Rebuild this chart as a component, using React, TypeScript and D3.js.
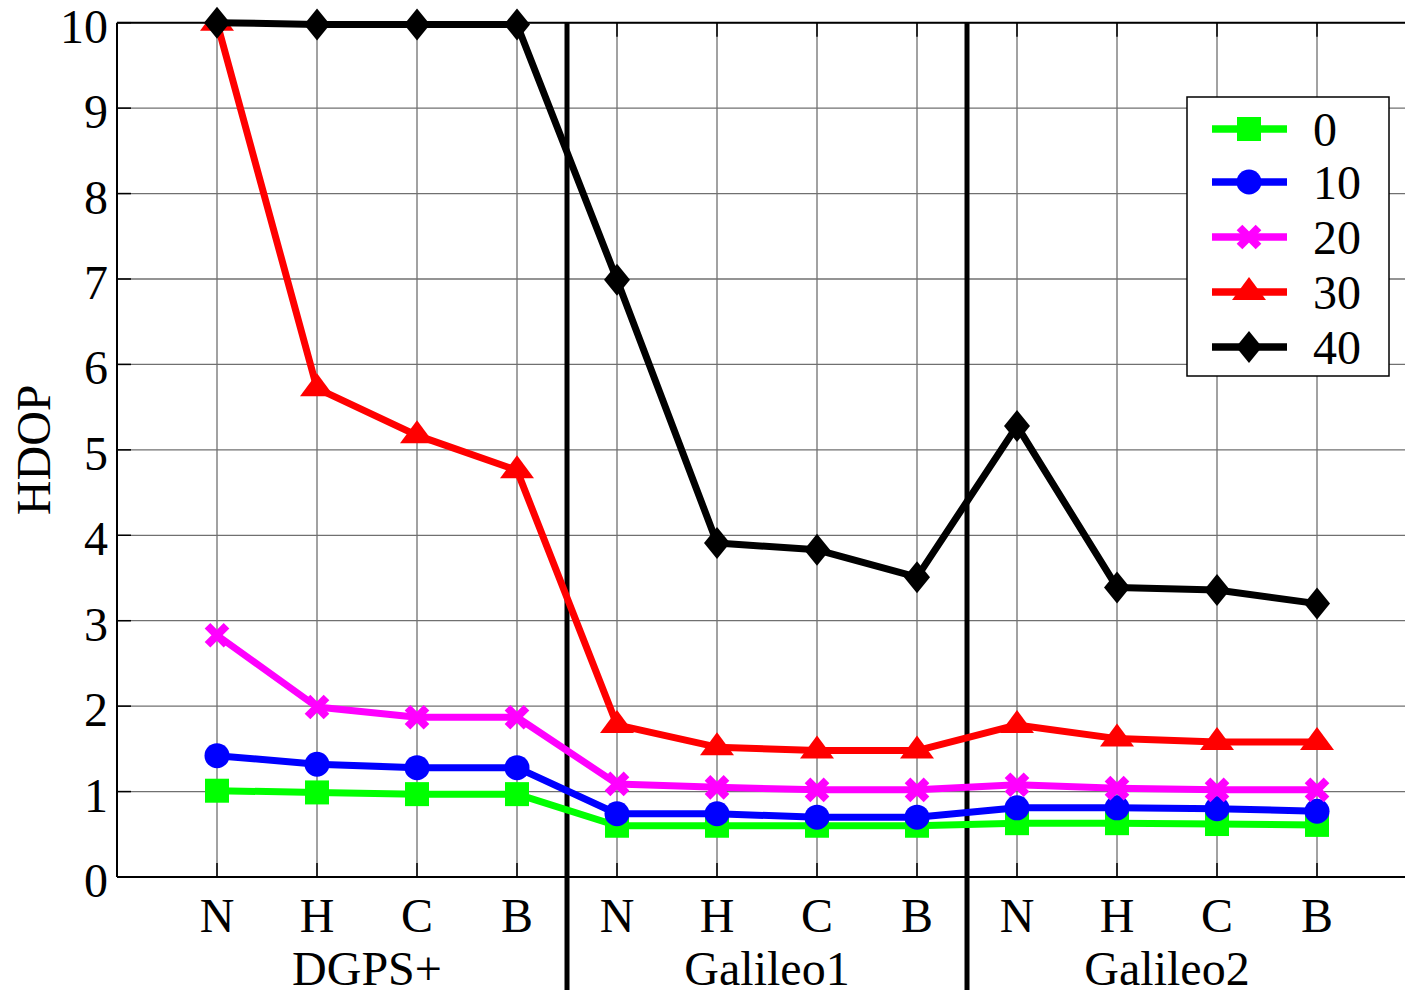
import React from "react";
import * as d3 from "d3";

const categories = ["N", "H", "C", "B", "N", "H", "C", "B", "N", "H", "C", "B"];
const groups = ["DGPS+", "Galileo1", "Galileo2"];
const yTicks = [0, 1, 2, 3, 4, 5, 6, 7, 8, 9, 10];
const seriesNames = ["0", "10", "20", "30", "40"];
const s0 = [1.01, 0.99, 0.97, 0.97, 0.6, 0.6, 0.6, 0.6, 0.63, 0.63, 0.62, 0.61];
const s10 = [1.42, 1.32, 1.28, 1.28, 0.74, 0.74, 0.7, 0.7, 0.81, 0.81, 0.8, 0.77];
const s20 = [2.83, 1.99, 1.87, 1.87, 1.09, 1.05, 1.02, 1.02, 1.08, 1.04, 1.02, 1.02];
const s30 = [10.0, 5.72, 5.17, 4.76, 1.78, 1.52, 1.48, 1.48, 1.78, 1.62, 1.58, 1.58];
const s40 = [10.0, 9.98, 9.98, 9.98, 6.99, 3.91, 3.83, 3.51, 5.28, 3.39, 3.36, 3.2];
const seriesValues = [s0, s10, s20, s30, s40];
const colors = ["#00ff00", "#0000ff", "#ff00ff", "#ff0000", "#000000"];
const markers = ["square", "circle", "cross", "triangle", "diamond"];

const W = 1405;
const H = 990;
const left = 117;
const top = 22.7;
const bottom = 877;
const FONT = "'Liberation Serif', 'Times New Roman', serif";

function Marker({ type, x, y, color }: { type: string; x: number; y: number; color: string }) {
  if (type === "square") return <rect x={x - 12} y={y - 12} width={24} height={24} fill={color} />;
  if (type === "circle") return <circle cx={x} cy={y} r={12.5} fill={color} />;
  if (type === "cross")
    return (
      <path
        d={`M${x - 9.5},${y - 9.5}L${x + 9.5},${y + 9.5}M${x - 9.5},${y + 9.5}L${x + 9.5},${y - 9.5}`}
        stroke={color}
        strokeWidth={8}
        fill="none"
      />
    );
  if (type === "triangle")
    return <path d={`M${x},${y - 15}L${x + 17},${y + 8}L${x - 17},${y + 8}Z`} fill={color} />;
  return <path d={`M${x},${y - 16}L${x + 13},${y}L${x},${y + 16}L${x - 13},${y}Z`} fill={color} />;
}

export default function App() {
  const x = d3.scaleLinear().domain([0, 13]).range([left, left + 1300]);
  const y = d3.scaleLinear().domain([0, 10]).range([bottom, top]);
  const right = x(13);
  const line = d3
    .line<number>()
    .x((_, i) => x(i + 1))
    .y((d) => y(d));

  const legendX = 1187;
  const legendY = 97;
  const legendRows = [129, 182, 237, 292, 347];

  return (
    <svg
      width={W}
      height={H}
      style={{ position: "fixed", left: 0, top: 0, background: "#fff" }}
      fontFamily={FONT}
    >
      <rect x={0} y={0} width={W} height={H} fill="#fff" />
      {yTicks.map((t) => (
        <line key={"gy" + t} x1={left} x2={right} y1={y(t)} y2={y(t)} stroke="#707070" strokeWidth={1.3} />
      ))}
      {categories.map((_, i) => (
        <line key={"gx" + i} x1={x(i + 1)} x2={x(i + 1)} y1={top} y2={bottom} stroke="#707070" strokeWidth={1.3} />
      ))}
      {yTicks.map((t) => (
        <line key={"ty" + t} x1={left} x2={left + 14} y1={y(t)} y2={y(t)} stroke="#000" strokeWidth={1.5} />
      ))}
      {categories.map((_, i) => (
        <g key={"tx" + i}>
          <line x1={x(i + 1)} x2={x(i + 1)} y1={bottom} y2={bottom - 14} stroke="#000" strokeWidth={1.5} />
          <line x1={x(i + 1)} x2={x(i + 1)} y1={top} y2={top + 14} stroke="#000" strokeWidth={1.5} />
        </g>
      ))}
      <line x1={left} x2={right} y1={top} y2={top} stroke="#000" strokeWidth={2} />
      <line x1={left} x2={right} y1={bottom} y2={bottom} stroke="#000" strokeWidth={2} />
      <line x1={left} x2={left} y1={top} y2={bottom} stroke="#000" strokeWidth={2} />
      {[4.5, 8.5].map((d) => (
        <line key={"dv" + d} x1={x(d)} x2={x(d)} y1={top} y2={H} stroke="#000" strokeWidth={5} />
      ))}
      {seriesValues.map((vals, si) => (
        <g key={"s" + si}>
          <path d={line(vals) || ""} fill="none" stroke={colors[si]} strokeWidth={7} strokeLinejoin="round" />
          {vals.map((v, i) => (
            <Marker key={i} type={markers[si]} x={x(i + 1)} y={y(v)} color={colors[si]} />
          ))}
        </g>
      ))}
      {yTicks.map((t) => (
        <text key={"ly" + t} x={108} y={y(t) + 20} textAnchor="end" fontSize={48} fill="#000">
          {t}
        </text>
      ))}
      {categories.map((c, i) => (
        <text key={"lx" + i} x={x(i + 1)} y={932} textAnchor="middle" fontSize={48} fill="#000">
          {c}
        </text>
      ))}
      {groups.map((g, gi) => (
        <text key={"lg" + gi} x={x(gi * 4 + 2.5)} y={985} textAnchor="middle" fontSize={48} fill="#000">
          {g}
        </text>
      ))}
      <text
        transform={`translate(50,${(top + bottom) / 2}) rotate(-90)`}
        textAnchor="middle"
        fontSize={48}
        fill="#000"
      >
        HDOP
      </text>
      <rect x={legendX} y={legendY} width={202} height={279} fill="#fff" stroke="#000" strokeWidth={1.5} />
      {seriesNames.map((n, si) => (
        <g key={"lgd" + si}>
          <line x1={1212} x2={1287} y1={legendRows[si]} y2={legendRows[si]} stroke={colors[si]} strokeWidth={7.5} />
          <Marker type={markers[si]} x={1249} y={legendRows[si]} color={colors[si]} />
          <text x={1313} y={legendRows[si] + 17} fontSize={48} fill="#000">
            {n}
          </text>
        </g>
      ))}
    </svg>
  );
}
